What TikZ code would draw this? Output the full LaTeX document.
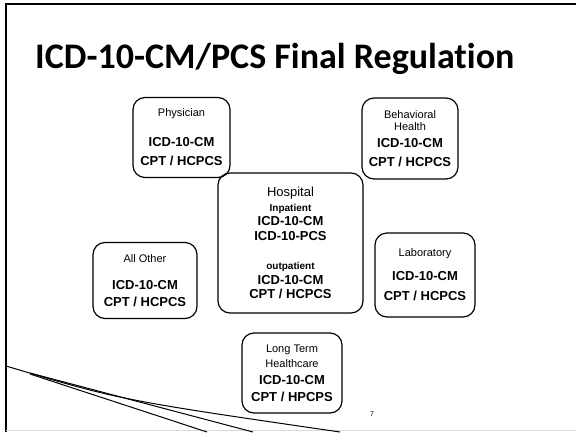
\documentclass[tikz,border=0pt]{standalone}
\usepackage{fontspec}
\setmainfont{Liberation Sans}
\newfontfamily\headfont[RawFeature={-liga}]{Carlito}
\usetikzlibrary{positioning}
\tikzset{
  sector/.style = {draw, line width=1.2pt, rounded corners=12pt, align=center, inner sep=0pt, font=\fontsize{11}{14}\selectfont},
  swoosh/.style = {line width=1pt},
}
\newcommand{\codes}[1]{{\bfseries\fontsize{13}{14}\selectfont #1}}
\newcommand{\care}[1]{{\fontsize{13}{14}\selectfont #1}}
\newcommand{\visit}[1]{{\bfseries\fontsize{10}{14}\selectfont #1}}

\begin{document}
\begin{tikzpicture}[x=1pt,y=-1pt]
  \useasboundingbox (0,0) rectangle (576,432);
  % slide frame
  \draw [line width = 1.5] (6,432) -- (6,4) -- (576,4);
  \draw [gray!30] (6,430.5) -- (576,430.5);
  % title
  \node (title) [anchor=base west, inner sep=0pt, font=\headfont\bfseries\fontsize{36}{40}\selectfont] at (35,68) {ICD-10-CM/PCS Final Regulation};
  % care settings
  \node (physician) [sector, minimum width=97, minimum height=80] at (181.5,137.5)
    {Physician\\[16pt]\codes{ICD-10-CM}\\[5pt]\codes{CPT / HCPCS}};
  \node (behavioral) [sector, minimum width=96, minimum height=81] at (410,138.5)
    {Behavioral\\[-2pt]Health\\[3pt]\codes{ICD-10-CM}\\[5pt]\codes{CPT / HCPCS}};
  \node (hospital) [sector, minimum width=145, minimum height=140] at (290.5,243)
    {\care{Hospital}\\[1pt]\visit{Inpatient}\\\codes{ICD-10-CM}\\[1pt]\codes{ICD-10-PCS}\\[15pt]\visit{outpatient}\\[1pt]\codes{ICD-10-CM}\\\codes{CPT / HCPCS}};
  \node (allother) [sector, minimum width=104, minimum height=76] at (145,280.5)
    {All Other\\[13pt]\codes{ICD-10-CM}\\[3pt]\codes{CPT / HCPCS}};
  \node (laboratory) [sector, minimum width=100, minimum height=84] at (425,275)
    {Laboratory\\[10pt]\codes{ICD-10-CM}\\[6pt]\codes{CPT / HCPCS}};
  \node (longterm) [sector, minimum width=100, minimum height=80] at (292,373)
    {Long Term\\[1pt]Healthcare\\[3pt]\codes{ICD-10-CM}\\[3pt]\codes{CPT / HPCPS}};
  % page number
  \node (pagenum) [font=\fontsize{7}{8}\selectfont] at (372,414) {7};
  % swoosh lines
  \draw [swoosh] (6,366) .. controls (120,400) .. (340,432);
  \draw [swoosh] (30,373) -- (253,432);
  \draw [swoosh] (30,374) -- (207,432);
\end{tikzpicture}
\end{document}
